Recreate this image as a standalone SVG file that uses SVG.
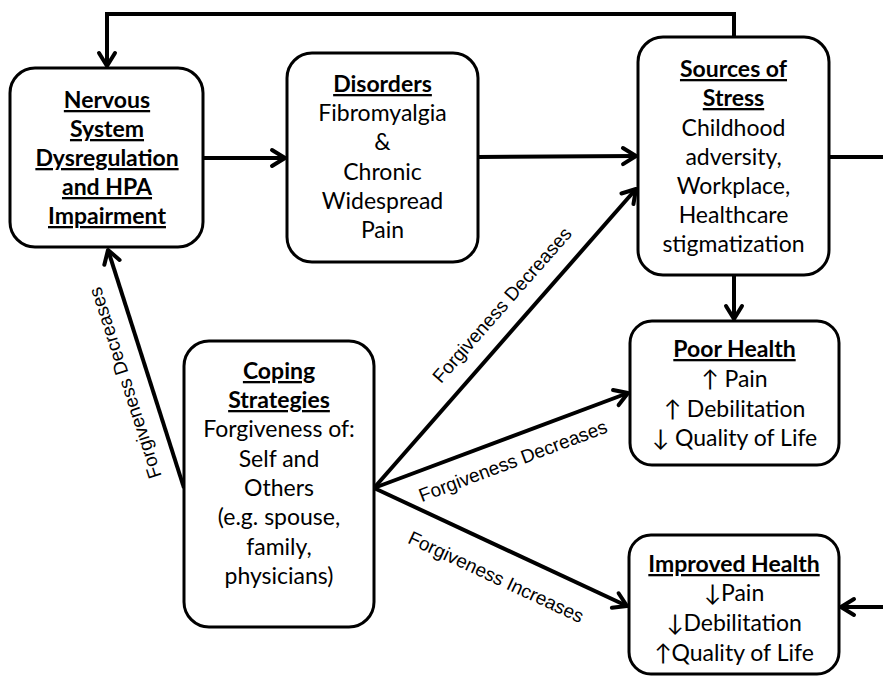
<svg xmlns="http://www.w3.org/2000/svg" width="883" height="676" viewBox="0 0 883 676">
<style>
.box{fill:#fff;stroke:#000;stroke-width:3}
.t{font-family:Lato,"Open Sans",sans-serif;font-size:23px;text-anchor:middle;fill:#000}
.h{font-weight:bold;text-decoration:underline}
.lbl{font-family:"Liberation Sans",Arial,sans-serif;font-size:19px;text-anchor:middle;dominant-baseline:central;fill:#000}
.c{fill:none;stroke:#000;stroke-width:4}
</style>
<defs>
<marker id="ah" markerUnits="userSpaceOnUse" markerWidth="24" markerHeight="24" viewBox="0 0 24 24" refX="18" refY="12" orient="auto">
<path d="M5,4 L18,12 L5,20" fill="none" stroke="#000" stroke-width="4" stroke-linecap="round" stroke-linejoin="round"/>
</marker>
</defs>
<g id="connectors">
<path class="c" d="M734,37 V14 H107 V66" marker-end="url(#ah)"/>
<line class="c" x1="203" y1="158" x2="285" y2="158" marker-end="url(#ah)"/>
<line class="c" x1="478" y1="157" x2="636" y2="156" marker-end="url(#ah)"/>
<line class="c" x1="829" y1="157" x2="883" y2="157"/>
<line class="c" x1="734" y1="275" x2="734" y2="319" marker-end="url(#ah)"/>
<line class="c" x1="883" y1="607" x2="841" y2="607" marker-end="url(#ah)"/>
<line class="c" x1="184" y1="488" x2="108" y2="250" marker-end="url(#ah)"/>
<line class="c" x1="374" y1="488" x2="636" y2="189" marker-end="url(#ah)"/>
<line class="c" x1="374" y1="488" x2="628" y2="393" marker-end="url(#ah)"/>
<line class="c" x1="374" y1="488" x2="627" y2="606" marker-end="url(#ah)"/>
<text class="lbl" transform="translate(125,383) rotate(-107.8)">Forgiveness Decreases</text>
<text class="lbl" transform="translate(502,305) rotate(-48.7)">Forgiveness Decreases</text>
<text class="lbl" transform="translate(513,461) rotate(-20.6)">Forgiveness Decreases</text>
<text class="lbl" transform="translate(496,577) rotate(25)">Forgiveness Increases</text>
</g>
<g id="nervous">
<rect class="box" x="10" y="68" width="193" height="179" rx="25"/>
<text class="t h" x="107" y="108">Nervous</text>
<text class="t h" x="107" y="137">System</text>
<text class="t h" x="107" y="166">Dysregulation</text>
<text class="t h" x="107" y="195">and HPA</text>
<text class="t h" x="107" y="224">Impairment</text>
</g>
<g id="disorders">
<rect class="box" x="287" y="53" width="191" height="209" rx="25"/>
<text class="t h" x="382.5" y="92">Disorders</text>
<text class="t" x="382.5" y="121">Fibromyalgia</text>
<text class="t" x="382.5" y="150">&amp;</text>
<text class="t" x="382.5" y="180">Chronic</text>
<text class="t" x="382.5" y="209">Widespread</text>
<text class="t" x="382.5" y="238">Pain</text>
</g>
<g id="sources">
<rect class="box" x="638" y="37" width="191" height="238" rx="25"/>
<text class="t h" x="733.5" y="77">Sources of</text>
<text class="t h" x="733.5" y="106">Stress</text>
<text class="t" x="733.5" y="136">Childhood</text>
<text class="t" x="733.5" y="165">adversity,</text>
<text class="t" x="733.5" y="194">Workplace,</text>
<text class="t" x="733.5" y="223">Healthcare</text>
<text class="t" x="733.5" y="252">stigmatization</text>
</g>
<g id="coping">
<rect class="box" x="184" y="341" width="190" height="286" rx="25"/>
<text class="t h" x="279" y="379">Coping</text>
<text class="t h" x="279" y="408">Strategies</text>
<text class="t" x="279" y="437">Forgiveness of:</text>
<text class="t" x="279" y="467">Self and</text>
<text class="t" x="279" y="496">Others</text>
<text class="t" x="279" y="525">(e.g. spouse,</text>
<text class="t" x="279" y="555">family,</text>
<text class="t" x="279" y="584">physicians)</text>
</g>
<g id="poor">
<rect class="box" x="630" y="321" width="209" height="144" rx="22"/>
<text class="t h" x="734.5" y="357">Poor Health</text>
<text class="t" x="734.5" y="387">↑ Pain</text>
<text class="t" x="734.5" y="417">↑ Debilitation</text>
<text class="t" x="734.5" y="446">↓ Quality of Life</text>
</g>
<g id="improved">
<rect class="box" x="629" y="535" width="210" height="139" rx="22"/>
<text class="t h" x="734" y="572">Improved Health</text>
<text class="t" x="734" y="601">↓Pain</text>
<text class="t" x="734" y="631">↓Debilitation</text>
<text class="t" x="734" y="661">↑Quality of Life</text>
</g>
</svg>
